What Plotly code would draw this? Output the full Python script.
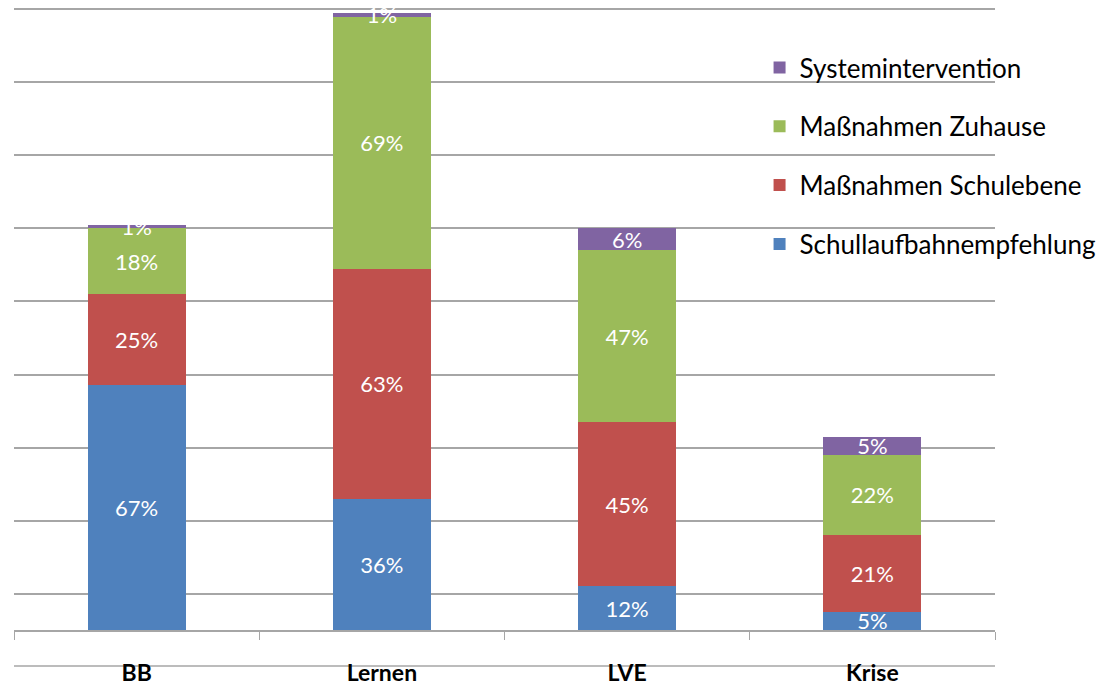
import plotly.graph_objects as go

# categories and percentage values per segment (bottom to top)
categories = ["BB", "Lernen", "LVE", "Krise"]
schullaufbahn = [67, 36, 12, 5]
schulebene = [25, 63, 45, 21]
zuhause = [18, 69, 47, 22]
system = [1, 1, 6, 5]

series = [
    ("Schullaufbahnempfehlung", schullaufbahn, "#4F81BD"),
    ("Maßnahmen Schulebene", schulebene, "#C0504D"),
    ("Maßnahmen Zuhause", zuhause, "#9BBB59"),
    ("Systemintervention", system, "#8064A2"),
]

fig = go.Figure()
for i, (name, vals, color) in enumerate(series):
    fig.add_bar(
        x=categories, y=vals, name=name,
        marker=dict(color=color, line=dict(width=0)),
        text=[f"{v}%" for v in vals],
        textposition="inside",
        insidetextanchor="middle",
        constraintext="none",
        textfont=dict(color="white", size=22, family="Lato"),
        legendgroup=f"g{i}",
        legendrank=1000 - i,
        width=0.4,
    )

grid_color = "#A6A6A6"

fig.update_layout(
    barmode="stack",
    width=1102, height=687,
    margin=dict(l=14, r=107, t=0, b=57),
    plot_bgcolor="white",
    paper_bgcolor="white",
    font=dict(family="Lato", color="black"),
    showlegend=True,
    legend=dict(
        x=0.760, y=0.93, xanchor="left", yanchor="top",
        traceorder="grouped",
        tracegroupgap=22,
        font=dict(size=26, family="Lato", color="black"),
        bgcolor="rgba(0,0,0,0)",
        itemwidth=30,
    ),
    xaxis=dict(
        range=[-0.5, 3.5],
        showline=True, linecolor=grid_color, linewidth=1.5,
        ticks="outside", tickson="boundaries", ticklen=8, tickcolor=grid_color,
        tickfont=dict(size=23, family="Lato", color="black", weight="bold"),
        ticklabelstandoff=22,
        showgrid=False,
    ),
    yaxis=dict(
        range=[0, 172.6],
        tickvals=[10, 30, 50, 70, 90, 110, 130, 150, 170],
        showticklabels=False,
        showgrid=True, gridcolor=grid_color, gridwidth=1.5,
        zeroline=False,
    ),
    shapes=[dict(
        type="line", xref="paper", yref="paper",
        x0=0, x1=1, y0=-36 / 630, y1=-36 / 630,
        line=dict(color=grid_color, width=1.5),
        layer="below",
    )],
)

fig.write_html(
    "out.html",
    config={"displayModeBar": False},
    post_script="document.body.style.margin='0';",
)
